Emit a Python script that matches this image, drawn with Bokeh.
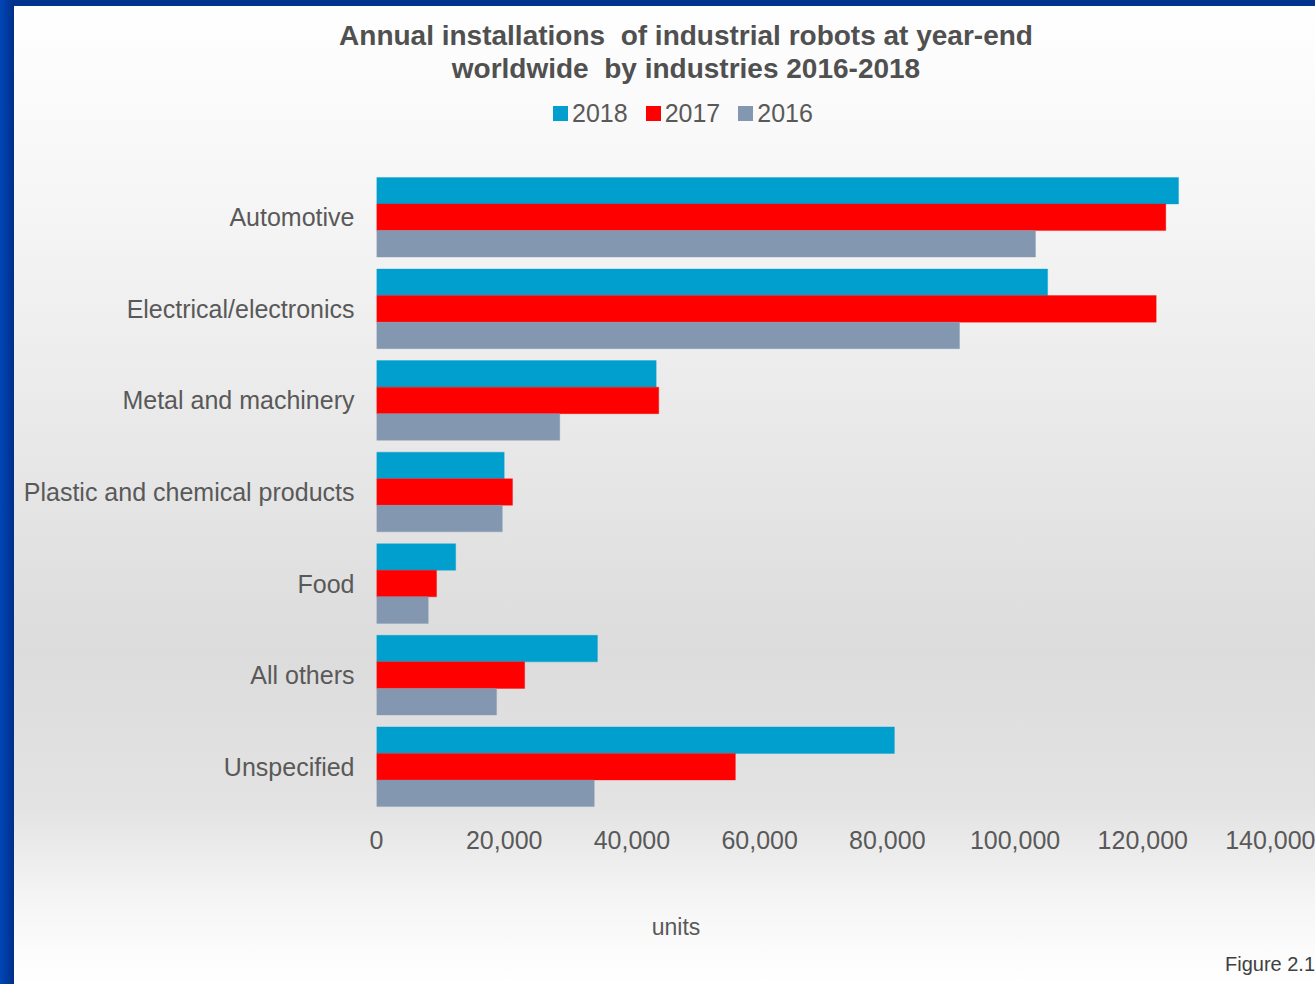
from bokeh.plotting import figure
from bokeh.layouts import column
from bokeh.models import (ColumnDataSource, FactorRange, Range1d, FixedTicker,
                          NumeralTickFormatter, Div, InlineStyleSheet)
from bokeh.transform import dodge
from bokeh.embed import file_html
from bokeh.resources import INLINE

# ---- data ----
industries = ["Automotive", "Electrical/electronics", "Metal and machinery",
              "Plastic and chemical products", "Food", "All others", "Unspecified"]
y2018 = [125600, 105100, 43800, 20000, 12400, 34600, 81100]
y2017 = [123600, 122100, 44200, 21300, 9400, 23200, 56200]
y2016 = [103200, 91300, 28700, 19700, 8100, 18800, 34100]
years = ["2018", "2017", "2016"]
colors = ["#009fce", "#ff0000", "#8497b0"]
x_ticks = [0, 20000, 40000, 60000, 80000, 100000, 120000, 140000]
title_lines = ["Annual installations  of industrial robots at year-end",
               "worldwide  by industries 2016-2018"]
x_label = "units"
note = "Figure 2.10"

FONT = "Liberation Sans"
TXT = "#595959"
W = 1315

# ---- header: title + legend ----
legend_items = "".join(
    f'<div style="display:flex;align-items:center;margin-right:18px;">'
    f'<span style="display:inline-block;width:15px;height:15px;background:{c};margin-right:4px;"></span>'
    f'<span>{yr}</span></div>'
    for yr, c in zip(years, colors))
header_html = f"""
<div style="position:relative;width:{W}px;height:140px;font-family:'{FONT}';">
  <div style="position:absolute;left:686px;top:19px;transform:translateX(-50%);
              white-space:pre;text-align:center;font-weight:bold;font-size:28px;
              line-height:33px;color:#505050;">{title_lines[0]}<br>{title_lines[1]}</div>
  <div style="position:absolute;left:553px;top:98px;display:flex;font-size:25px;
              line-height:30px;color:{TXT};">{legend_items}</div>
</div>"""
header = Div(text=header_html, width=W, height=140, margin=0)

# ---- chart ----
source = ColumnDataSource(data=dict(industry=industries, y2018=y2018,
                                    y2017=y2017, y2016=y2016))

p = figure(width=W, height=732, output_backend="svg", toolbar_location=None,
           y_range=FactorRange(*industries[::-1]),
           x_range=Range1d(0, 140000),
           min_border_left=376, min_border_right=45,
           min_border_top=31, min_border_bottom=60, margin=0)
p.background_fill_color = None
p.border_fill_color = None
p.outline_line_color = None

bar_h = 0.29
offsets = [bar_h, 0.0, -bar_h]
fields = ["y2018", "y2017", "y2016"]
for f, yr, c, off in zip(fields, years, colors, offsets):
    p.hbar(y=dodge("industry", off, range=p.y_range), right=f, left=0,
           height=bar_h, source=source, fill_color=c, line_color=c,
           line_alpha=0.35, line_width=1)

p.xgrid.visible = False
p.ygrid.visible = False
for ax in (p.xaxis[0], p.yaxis[0]):
    ax.axis_line_color = None
    ax.major_tick_line_color = None
    ax.minor_tick_line_color = None
    ax.major_tick_out = 0
    ax.major_label_text_font = FONT
    ax.major_label_text_color = TXT
    ax.major_label_text_font_size = "25px"
p.xaxis.ticker = FixedTicker(ticks=x_ticks)
p.xaxis.formatter = NumeralTickFormatter(format="0,0")
p.xaxis.major_label_standoff = 18
p.yaxis.major_label_standoff = 22

# ---- footer: axis unit + figure note ----
footer_html = f"""
<div style="position:relative;width:{W}px;height:112px;overflow:hidden;font-family:'{FONT}';">
  <div style="position:absolute;left:676px;top:41px;transform:translateX(-50%);
              font-size:23px;line-height:28px;color:{TXT};">{x_label}</div>
  <div style="position:absolute;left:1225px;top:80px;white-space:nowrap;
              font-size:20px;line-height:24px;color:#404040;">{note}</div>
</div>"""
footer = Div(text=footer_html, width=W, height=112, margin=0)

bg = InlineStyleSheet(css=""":host {
  background:
    linear-gradient(to right, #0046b8 0px, #002f88 14px, rgba(0,0,0,0) 14px),
    linear-gradient(to bottom, #00348f 0px, #00348f 6px, rgba(0,0,0,0) 6px),
    linear-gradient(to bottom, #ffffff 0%, #f7f7f7 18%, #ebebeb 40%, #dcdcdc 66%,
                    #e3e3e3 82%, #f6f6f6 92%, #ffffff 100%);
}""")
layout = column(header, p, footer, width=W, height=984, spacing=0, margin=0,
                stylesheets=[bg])

open("out.html", "w").write(file_html(layout, INLINE))
